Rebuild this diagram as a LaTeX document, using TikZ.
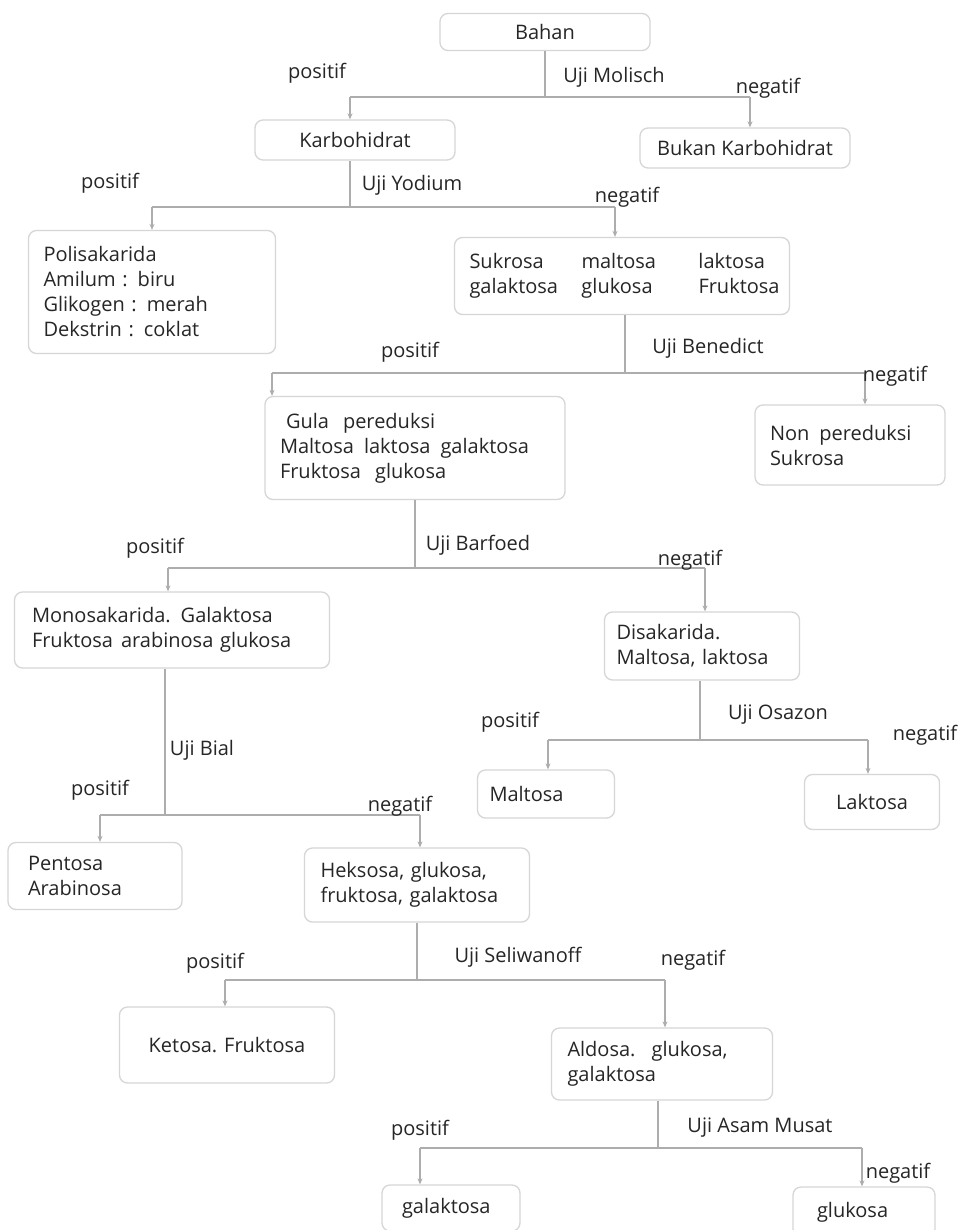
\documentclass[tikz,border=0pt]{standalone}
\usepackage{fontspec}
\setmainfont{Open Sans}
\usetikzlibrary{arrows.meta}
\begin{document}
\begin{tikzpicture}[x=1pt,y=-1pt,
  box/.style={draw=black!16,line width=1.3pt,rounded corners=8pt,fill=white,align=left,inner sep=0pt,text=black!85,font=\fontsize{20}{25}\selectfont},
  lbl/.style={text=black!85,font=\fontsize{20}{24}\selectfont,inner sep=0pt},
  link/.style={draw=black!32,line width=1.6pt},
  arr/.style={link,-{Stealth[length=6pt,width=5pt]}}]
\path[use as bounding box,fill=white] (0,0) rectangle (962,1230);

% boxes
\node[box,minimum width=210pt,minimum height=37pt] (bahan) at (545,32) {Bahan};
\node[box,minimum width=200pt,minimum height=40pt] (karbo) at (355,140) {Karbohidrat};
\node[box,minimum width=210pt,minimum height=40pt] (bukan) at (745,148) {Bukan Karbohidrat};
\node[box,minimum width=247pt,minimum height=123pt,text width=217pt] (poli) at (152,292) {Polisakarida\\Amilum : biru\\Glikogen : merah\\Dekstrin : coklat};
\node[box,minimum width=335pt,minimum height=77pt,text width=305pt] (suk) at (622,276) {\begin{tabular}{@{}p{100pt}p{105pt}l@{}}Sukrosa & maltosa & laktosa\\ galaktosa & glukosa & Fruktosa\end{tabular}};
\node[box,minimum width=300pt,minimum height=103pt,text width=270pt] (gula) at (415,448) {\hspace*{6pt}Gula\hspace{14pt}pereduksi\\Maltosa\hspace{10pt}laktosa\hspace{10pt}galaktosa\\Fruktosa\hspace{14pt}glukosa};
\node[box,minimum width=190pt,minimum height=80pt,text width=160pt] (non) at (850,445) {Non\hspace{10pt}pereduksi\\Sukrosa};
\node[box,minimum width=315pt,minimum height=76pt,text width=280pt] (mono) at (172,630) {Monosakarida. Galaktosa\\Fruktosa\hspace{8pt}arabinosa glukosa};
\node[box,minimum width=195pt,minimum height=68pt,text width=171pt] (disa) at (702,646) {Disakarida.\\Maltosa, laktosa};
\node[box,minimum width=137pt,minimum height=48pt,text width=113pt] (malt) at (546,794) {Maltosa};
\node[box,minimum width=135pt,minimum height=55pt] (lakt) at (872,802) {Laktosa};
\node[box,minimum width=174pt,minimum height=67pt,text width=134pt] (pent) at (95,876) {Pentosa\\Arabinosa};
\node[box,minimum width=225pt,minimum height=74pt,text width=193pt] (heks) at (417,885) {Heksosa, glukosa,\\fruktosa, galaktosa};
\node[box,minimum width=215pt,minimum height=76pt] (keto) at (227,1045) {Ketosa. Fruktosa};
\node[box,minimum width=221pt,minimum height=72pt,text width=189pt] (aldo) at (662,1064) {Aldosa.\hspace{16pt}glukosa,\\galaktosa};
\node[box,minimum width=138pt,minimum height=46pt,text width=98pt] (gala) at (451,1208) {galaktosa};
\node[box,minimum width=142pt,minimum height=50pt,text width=94pt] (gluk) at (864,1212) {glukosa};

% junctions
\coordinate (j1) at (545,97);  \coordinate (j1l) at (350,97);  \coordinate (j1r) at (750,97);
\coordinate (j2) at (350,207); \coordinate (j2l) at (152,207); \coordinate (j2r) at (615,207);
\coordinate (j3) at (625,373); \coordinate (j3l) at (272,373); \coordinate (j3r) at (865,373);
\coordinate (j4) at (415,568); \coordinate (j4l) at (168,568); \coordinate (j4r) at (705,568);
\coordinate (j5) at (700,740); \coordinate (j5l) at (548,740); \coordinate (j5r) at (868,740);
\coordinate (j6) at (165,815); \coordinate (j6l) at (100,815); \coordinate (j6r) at (420,815);
\coordinate (j7) at (417,980); \coordinate (j7l) at (225,980); \coordinate (j7r) at (665,980);
\coordinate (j8) at (658,1148); \coordinate (j8l) at (420,1148); \coordinate (j8r) at (862,1148);

% connectors
\draw[link] (bahan.south -| j1) -- (j1);  \draw[link] (j1l) -- (j1r);
\draw[arr] (j1l) -- (j1l |- karbo.north); \draw[arr] (j1r) -- (j1r |- bukan.north);
\draw[link] (karbo.south -| j2) -- (j2);  \draw[link] (j2l) -- (j2r);
\draw[arr] (j2l) -- (j2l |- poli.north);  \draw[arr] (j2r) -- (j2r |- suk.north);
\draw[link] (suk.south -| j3) -- (j3);    \draw[link] (j3l) -- (j3r);
\draw[arr] (j3l) -- (j3l |- gula.north);  \draw[arr] (j3r) -- (j3r |- non.north);
\draw[link] (gula.south -| j4) -- (j4);   \draw[link] (j4l) -- (j4r);
\draw[arr] (j4l) -- (j4l |- mono.north);  \draw[arr] (j4r) -- (j4r |- disa.north);
\draw[link] (disa.south -| j5) -- (j5);   \draw[link] (j5l) -- (j5r);
\draw[arr] (j5l) -- (j5l |- malt.north);  \draw[arr] (j5r) -- (j5r |- lakt.north);
\draw[link] (mono.south -| j6) -- (j6);   \draw[link] (j6l) -- (j6r);
\draw[arr] (j6l) -- (j6l |- pent.north);  \draw[arr] (j6r) -- (j6r |- heks.north);
\draw[link] (heks.south -| j7) -- (j7);   \draw[link] (j7l) -- (j7r);
\draw[arr] (j7l) -- (j7l |- keto.north);  \draw[arr] (j7r) -- (j7r |- aldo.north);
\draw[link] (aldo.south -| j8) -- (j8);   \draw[link] (j8l) -- (j8r);
\draw[arr] (j8l) -- (j8l |- gala.north);  \draw[arr] (j8r) -- (j8r |- gluk.north);

% labels
\node[lbl] (p1) at (317,73) {positif};  \node[lbl] (u1) at (614,77) {Uji Molisch};  \node[lbl] (n1) at (768,88) {negatif};
\node[lbl] (p2) at (110,183) {positif}; \node[lbl] (u2) at (412,185) {Uji Yodium}; \node[lbl] (n2) at (627,197) {negatif};
\node[lbl] (p3) at (410,352) {positif}; \node[lbl] (u3) at (708,348) {Uji Benedict}; \node[lbl] (n3) at (895,376) {negatif};
\node[lbl] (p4) at (155,548) {positif}; \node[lbl] (u4) at (478,545) {Uji Barfoed}; \node[lbl] (n4) at (690,560) {negatif};
\node[lbl] (p5) at (510,722) {positif}; \node[lbl] (u5) at (778,715) {Uji Osazon}; \node[lbl] (n5) at (925,735) {negatif};
\node[lbl] (u6) at (202,750) {Uji Bial}; \node[lbl] (p6) at (100,790) {positif}; \node[lbl] (n6) at (400,806) {negatif};
\node[lbl] (p7) at (215,963) {positif}; \node[lbl] (u7) at (518,957) {Uji Seliwanoff}; \node[lbl] (n7) at (693,960) {negatif};
\node[lbl] (p8) at (420,1130) {positif}; \node[lbl] (u8) at (760,1128) {Uji Asam Musat}; \node[lbl] (n8) at (898,1173) {negatif};
\end{tikzpicture}
\end{document}
